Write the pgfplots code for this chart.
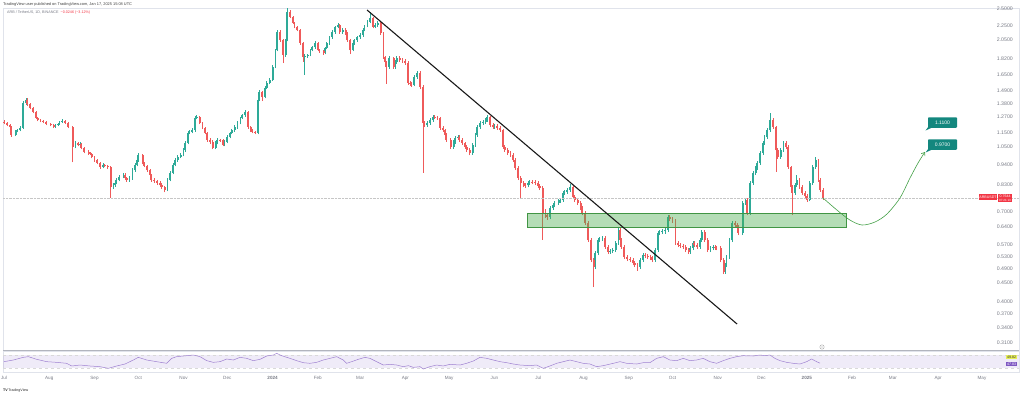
\documentclass[border=0pt]{standalone}
\usepackage{pgfplots}
\pgfplotsset{compat=1.18}
\usepackage{pgfplotstable}
\usetikzlibrary{arrows.meta}
\usepackage{fontspec}
\setmainfont{Liberation Sans}
\definecolor{up}{HTML}{2EAA98}
\definecolor{dn}{HTML}{EF5A5A}
\definecolor{axgrey}{HTML}{E0E3EB}
\definecolor{sepgrey}{HTML}{B2B5BE}
\definecolor{txtgrey}{HTML}{787B86}
\definecolor{tvred}{HTML}{F23645}
\definecolor{callteal}{HTML}{13877E}
\definecolor{zonegreen}{HTML}{4CAF50}
\definecolor{arrowgreen}{HTML}{43A047}
\definecolor{rsipurple}{HTML}{7E57C2}
\definecolor{rsiyellow}{HTML}{E6EE5A}

% day  open  high  low  close  (day 0 = 1 Jul 2023)
\pgfplotstableread{
d o h l c
8 1.1331 1.172 1.125 1.1619
9 1.1619 1.180 1.152 1.1691
11 1.1691 1.195 1.160 1.1839
13 1.1839 1.400 1.178 1.3842
15 1.3842 1.430 1.370 1.4102
35 1.1914 1.217 1.182 1.2062
37 1.2062 1.225 1.197 1.2139
38 1.2139 1.240 1.205 1.2292
40 1.2292 1.250 1.220 1.2368
49 1.0514 1.090 1.042 1.0780
52 1.0645 1.082 1.055 1.0712
68 0.9278 0.950 0.920 0.9394
75 0.8188 0.838 0.810 0.8290
76 0.8290 0.849 0.821 0.8395
77 0.8395 0.865 0.832 0.8553
79 0.8553 0.882 0.848 0.8716
82 0.8716 0.893 0.864 0.8825
86 0.8553 0.876 0.847 0.8662
88 0.8662 0.920 0.858 0.9105
90 0.9105 0.950 0.902 0.9394
91 0.9394 0.980 0.931 0.9692
92 0.9692 1.012 0.960 1.0000
112 0.8035 0.865 0.797 0.8553
114 0.8553 0.904 0.848 0.8941
116 0.8941 0.950 0.886 0.9394
117 0.9394 0.980 0.931 0.9692
119 0.9692 0.998 0.960 0.9877
121 0.9877 1.012 0.979 1.0000
123 1.0000 1.043 0.991 1.0317
124 1.0317 1.090 1.022 1.0780
126 1.0780 1.160 1.068 1.1475
127 1.1475 1.168 1.137 1.1547
129 1.1547 1.182 1.144 1.1691
131 1.1691 1.275 1.158 1.2603
132 1.2603 1.285 1.249 1.2682
145 1.0448 1.090 1.035 1.0780
146 1.0780 1.110 1.068 1.0983
151 1.0645 1.096 1.055 1.0848
153 1.0848 1.130 1.075 1.1192
155 1.1192 1.158 1.109 1.1475
156 1.1475 1.180 1.137 1.1691
158 1.1691 1.203 1.158 1.1914
160 1.1914 1.233 1.180 1.2215
162 1.2215 1.272 1.210 1.2603
163 1.2603 1.296 1.249 1.2840
165 1.2840 1.321 1.272 1.3085
174 1.1475 1.425 1.137 1.4102
175 1.4102 1.498 1.398 1.4827
179 1.4371 1.535 1.425 1.5202
180 1.5202 1.585 1.508 1.5685
182 1.5685 1.615 1.555 1.5980
184 1.5980 1.750 1.585 1.7335
186 1.7335 1.945 1.718 1.9275
187 1.9275 2.180 1.910 2.1573
193 1.8682 2.070 1.850 2.0518
194 2.0518 2.500 2.035 2.4446
206 1.8452 1.875 1.650 1.8567
208 1.8567 1.885 1.838 1.8682
210 1.8682 1.945 1.852 1.9275
211 1.9275 1.982 1.910 1.9642
213 1.9642 2.035 1.945 2.0139
220 1.8919 1.970 1.875 1.9520
221 1.9520 2.032 1.935 2.0139
223 2.0139 2.110 1.995 2.0909
225 2.0909 2.178 2.070 2.1573
227 2.1573 2.245 2.135 2.2258
229 2.2258 2.275 2.205 2.2535
232 2.1573 2.205 2.135 2.1842
239 1.9275 2.030 1.910 2.0139
240 2.0139 2.070 1.995 2.0518
242 2.0518 2.110 2.030 2.0909
244 2.0909 2.138 2.070 2.1170
246 2.1170 2.205 2.095 2.1842
247 2.1842 2.260 2.165 2.2396
249 2.2396 2.320 2.220 2.2965
251 2.2965 2.440 2.275 2.3546
254 2.2258 2.275 2.205 2.2535
256 2.2535 2.305 2.230 2.2821
264 1.7335 1.852 1.715 1.8338
268 1.7335 1.808 1.715 1.7885
269 1.7885 1.855 1.770 1.8338
281 1.5488 1.645 1.535 1.6284
283 1.6284 1.690 1.610 1.6697
290 1.2062 1.236 1.192 1.2215
292 1.2215 1.258 1.208 1.2445
294 1.2445 1.283 1.230 1.2682
308 1.0514 1.098 1.040 1.0848
309 1.0848 1.125 1.073 1.1122
311 1.1122 1.132 1.100 1.1192
321 1.0127 1.077 1.000 1.0645
323 1.0645 1.146 1.053 1.1331
324 1.1331 1.205 1.120 1.1914
326 1.1914 1.235 1.178 1.2215
328 1.2215 1.243 1.208 1.2292
330 1.2292 1.258 1.215 1.2445
331 1.2445 1.285 1.232 1.2682
336 1.1914 1.212 1.180 1.1990
359 0.8275 0.852 0.817 0.8395
360 0.8395 0.858 0.830 0.8448
374 0.6788 0.728 0.670 0.7181
376 0.7181 0.742 0.710 0.7316
377 0.7316 0.752 0.722 0.7409
380 0.7409 0.762 0.732 0.7502
381 0.7502 0.766 0.740 0.7548
383 0.7548 0.800 0.746 0.7889
384 0.7889 0.806 0.778 0.7940
386 0.7940 0.816 0.784 0.8035
388 0.8035 0.832 0.795 0.8188
405 0.4966 0.550 0.490 0.5421
407 0.5421 0.596 0.535 0.5879
408 0.5879 0.600 0.580 0.5916
410 0.5916 0.604 0.584 0.5953
415 0.5455 0.556 0.539 0.5489
417 0.5489 0.560 0.542 0.5523
419 0.5523 0.585 0.545 0.5770
421 0.5770 0.634 0.570 0.6258
436 0.4966 0.526 0.490 0.5188
438 0.5188 0.542 0.512 0.5353
446 0.5188 0.560 0.512 0.5523
448 0.5523 0.622 0.545 0.6142
449 0.6142 0.627 0.606 0.6181
451 0.6181 0.629 0.610 0.6200
453 0.6200 0.634 0.611 0.6258
455 0.6258 0.688 0.618 0.6788
470 0.5455 0.567 0.539 0.5593
472 0.5593 0.585 0.552 0.5770
477 0.5628 0.596 0.556 0.5879
478 0.5879 0.627 0.580 0.6181
484 0.5523 0.567 0.545 0.5593
486 0.5593 0.571 0.552 0.5628
494 0.4814 0.510 0.476 0.5028
495 0.5028 0.536 0.497 0.5287
497 0.5287 0.596 0.522 0.5879
499 0.5879 0.663 0.580 0.6539
506 0.6142 0.752 0.606 0.7409
508 0.7409 0.766 0.732 0.7548
511 0.6960 0.851 0.688 0.8395
513 0.8395 0.906 0.830 0.8941
515 0.8941 0.934 0.884 0.9221
516 0.9221 0.963 0.912 0.9513
518 0.9513 1.025 0.941 1.0127
520 1.0127 1.091 1.002 1.0780
521 1.0780 1.133 1.066 1.1192
523 1.1192 1.183 1.107 1.1691
525 1.1691 1.300 1.157 1.2445
532 0.9877 1.045 0.976 1.0317
534 1.0317 1.092 1.020 1.0780
542 0.7889 0.840 0.780 0.8290
543 0.8290 0.880 0.820 0.8553
552 0.7548 0.850 0.748 0.8395
554 0.8395 0.940 0.830 0.9278
556 0.9278 0.985 0.918 0.9692
}\uptab

\pgfplotstableread{
d o h l c
0 1.2300 1.245 1.210 1.2215
2 1.2215 1.232 1.195 1.2062
4 1.2062 1.215 1.180 1.1914
5 1.1914 1.200 1.120 1.1331
16 1.4102 1.425 1.362 1.3755
18 1.3755 1.388 1.330 1.3416
20 1.3416 1.352 1.298 1.3085
22 1.3085 1.318 1.250 1.2603
23 1.2603 1.270 1.234 1.2445
25 1.2445 1.256 1.226 1.2368
27 1.2368 1.248 1.219 1.2292
29 1.2292 1.240 1.204 1.2139
32 1.2139 1.225 1.196 1.2062
34 1.2062 1.216 1.182 1.1914
42 1.2368 1.248 1.212 1.2215
44 1.2215 1.230 1.182 1.1914
47 1.1914 1.198 0.955 1.0514
51 1.0780 1.088 1.055 1.0645
53 1.0712 1.080 1.035 1.0448
55 1.0448 1.053 1.010 1.0190
58 1.0190 1.030 1.003 1.0127
59 1.0127 1.022 0.997 1.0063
60 1.0063 1.015 0.979 0.9877
62 0.9877 0.996 0.960 0.9692
64 0.9692 0.978 0.943 0.9513
66 0.9513 0.960 0.919 0.9278
69 0.9394 0.948 0.925 0.9336
71 0.9336 0.942 0.919 0.9278
73 0.9278 0.935 0.764 0.8188
83 0.8825 0.892 0.858 0.8662
84 0.8662 0.874 0.847 0.8553
95 1.0000 1.008 0.943 0.9513
96 0.9513 0.960 0.925 0.9336
98 0.9336 0.942 0.902 0.9105
100 0.9105 0.918 0.874 0.8825
101 0.8825 0.890 0.847 0.8553
103 0.8553 0.864 0.842 0.8500
105 0.8500 0.858 0.831 0.8395
107 0.8395 0.848 0.821 0.8290
108 0.8290 0.837 0.811 0.8188
110 0.8188 0.826 0.792 0.8035
134 1.2682 1.280 1.211 1.2215
136 1.2215 1.232 1.173 1.1839
138 1.1839 1.194 1.137 1.1475
139 1.1475 1.158 1.088 1.0983
141 1.0983 1.110 1.074 1.0848
143 1.0848 1.095 1.035 1.0448
148 1.0983 1.108 1.085 1.0950
150 1.0950 1.104 1.055 1.0645
167 1.3085 1.318 1.180 1.1914
169 1.1914 1.200 1.158 1.1691
170 1.1691 1.178 1.144 1.1547
172 1.1547 1.164 1.137 1.1475
177 1.4827 1.495 1.400 1.4371
189 2.1573 2.180 2.030 2.0518
191 2.0518 2.065 1.777 1.8682
196 2.4446 2.470 2.350 2.3694
198 2.3694 2.390 2.262 2.2821
199 2.2821 2.300 2.205 2.2258
201 2.2258 2.245 2.165 2.1842
203 2.1842 2.200 1.995 2.0139
205 2.0139 2.030 1.790 1.8452
215 2.0139 2.030 1.910 1.9275
216 1.9275 1.940 1.895 1.9156
219 1.9156 1.930 1.872 1.8919
230 2.2535 2.270 2.135 2.1573
234 2.1842 2.205 2.120 2.1439
235 2.1439 2.160 2.030 2.0518
237 2.0518 2.070 1.880 1.9275
253 2.3546 2.375 2.205 2.2258
258 2.2821 2.300 2.120 2.1439
260 2.1439 2.160 1.820 1.8452
261 1.8452 1.862 1.768 1.7885
262 1.7885 1.805 1.560 1.7335
267 1.8338 1.850 1.715 1.7335
271 1.8338 1.852 1.790 1.8108
273 1.8108 1.830 1.780 1.7997
275 1.7997 1.818 1.757 1.7774
277 1.7774 1.795 1.550 1.5685
278 1.5685 1.585 1.540 1.5586
279 1.5586 1.575 1.530 1.5488
285 1.6697 1.688 1.510 1.5298
287 1.5298 1.545 0.894 1.2215
288 1.2215 1.235 1.190 1.2062
295 1.2682 1.282 1.250 1.2640
297 1.2640 1.276 1.245 1.2603
299 1.2603 1.272 1.170 1.1839
301 1.1839 1.195 1.155 1.1691
302 1.1691 1.180 1.120 1.1331
303 1.1331 1.145 1.085 1.0983
306 1.0983 1.110 1.040 1.0514
312 1.1192 1.130 1.086 1.0983
314 1.0983 1.110 1.066 1.0780
316 1.0780 1.088 1.040 1.0514
317 1.0514 1.062 1.020 1.0317
319 1.0317 1.042 0.998 1.0127
333 1.2682 1.280 1.192 1.2062
335 1.2062 1.218 1.178 1.1914
338 1.1990 1.210 1.172 1.1839
340 1.1839 1.195 1.156 1.1691
342 1.1691 1.180 1.040 1.0514
343 1.0514 1.062 1.020 1.0317
345 1.0317 1.042 1.000 1.0127
347 1.0127 1.023 0.988 1.0000
349 1.0000 1.010 0.958 0.9692
350 0.9692 0.979 0.911 0.9221
352 0.9221 0.932 0.855 0.8662
354 0.8662 0.876 0.765 0.8395
356 0.8395 0.850 0.818 0.8290
357 0.8290 0.840 0.815 0.8275
362 0.8448 0.856 0.832 0.8430
364 0.8430 0.854 0.829 0.8395
366 0.8395 0.850 0.813 0.8239
367 0.8239 0.833 0.803 0.8137
369 0.8137 0.822 0.588 0.6960
371 0.6960 0.712 0.675 0.6873
372 0.6873 0.697 0.668 0.6788
390 0.8188 0.828 0.760 0.7692
391 0.7692 0.778 0.745 0.7548
393 0.7548 0.764 0.732 0.7409
395 0.7409 0.750 0.709 0.7181
396 0.7181 0.726 0.687 0.6960
398 0.6960 0.704 0.645 0.6539
400 0.6539 0.662 0.580 0.5879
402 0.5879 0.595 0.512 0.5188
404 0.5188 0.525 0.438 0.4966
412 0.5953 0.603 0.556 0.5628
414 0.5628 0.570 0.538 0.5455
422 0.6258 0.632 0.580 0.5879
423 0.5879 0.595 0.556 0.5628
425 0.5628 0.570 0.522 0.5287
427 0.5287 0.535 0.515 0.5221
429 0.5221 0.529 0.512 0.5188
431 0.5188 0.526 0.502 0.5092
432 0.5092 0.516 0.496 0.5028
434 0.5028 0.509 0.485 0.4966
439 0.5353 0.542 0.525 0.5320
441 0.5320 0.539 0.522 0.5287
443 0.5287 0.535 0.518 0.5254
444 0.5254 0.532 0.512 0.5188
456 0.6788 0.688 0.662 0.6703
458 0.6703 0.679 0.654 0.6620
460 0.6620 0.670 0.569 0.5770
462 0.5770 0.585 0.562 0.5698
463 0.5698 0.577 0.559 0.5663
465 0.5663 0.574 0.555 0.5628
467 0.5628 0.570 0.545 0.5523
469 0.5523 0.559 0.538 0.5455
473 0.5770 0.585 0.562 0.5698
475 0.5698 0.577 0.555 0.5628
480 0.6181 0.626 0.580 0.5879
482 0.5879 0.596 0.545 0.5523
487 0.5628 0.570 0.552 0.5593
488 0.5593 0.566 0.551 0.5580
491 0.5580 0.565 0.512 0.5188
493 0.5188 0.526 0.475 0.4814
501 0.6539 0.663 0.638 0.6457
502 0.6457 0.654 0.630 0.6377
503 0.6377 0.646 0.606 0.6142
509 0.7548 0.765 0.687 0.6960
527 1.2445 1.262 1.178 1.1914
529 1.1914 1.200 0.900 1.0317
530 1.0317 1.045 0.976 0.9877
536 1.0780 1.090 1.040 1.0514
537 1.0514 1.062 0.917 0.9278
539 0.9278 0.936 0.809 0.8188
540 0.8188 0.828 0.687 0.7889
545 0.8553 0.865 0.810 0.8188
547 0.8188 0.828 0.780 0.7889
549 0.7889 0.797 0.766 0.7740
550 0.7740 0.782 0.746 0.7548
558 0.9692 0.978 0.846 0.8553
559 0.8553 0.864 0.795 0.8035
561 0.8035 0.812 0.756 0.7644
}\dntab

\pgfplotstableread{
d r
0 49.5
6.4 54.6
13.2 62.8
16.7 64.9
22.4 56.7
29.2 49.5
36.1 47.4
42.9 44.4
46.4 36.2
52.1 39.2
58.9 36.2
65.8 34.1
71.5 29.0
77.2 36.2
82.9 42.3
88.6 54.6
92.0 62.8
97.8 54.6
104.6 49.5
111.5 44.4
114.9 59.7
118.3 64.9
125.2 67.9
129.7 70.0
134.3 64.9
138.9 52.6
143.4 47.4
148.0 49.5
152.6 57.7
157.1 54.6
161.7 62.8
166.3 59.7
170.8 52.6
175.4 56.7
180.0 66.9
184.5 70.0
186.8 75.1
190.2 67.9
195.9 59.7
200.5 52.6
205.0 46.4
209.6 44.4
214.2 47.4
218.7 54.6
223.3 59.7
227.9 64.9
232.4 54.6
234.7 44.4
238.2 49.5
242.7 56.7
247.3 62.8
250.7 59.7
255.3 49.5
259.8 39.2
264.4 41.3
269.0 39.2
273.5 34.1
277.0 37.2
280.4 32.0
285.0 34.1
287.2 26.9
291.8 34.1
296.4 39.2
300.9 36.2
305.5 41.3
312.4 39.2
316.9 44.4
321.5 51.5
326.1 62.8
330.7 59.7
335.2 54.6
339.8 49.5
344.4 46.4
348.9 42.3
353.5 39.2
360.3 37.2
364.9 39.2
369.5 29.0
374.0 36.2
378.6 44.4
383.2 49.5
387.7 54.6
392.3 49.5
396.8 44.4
401.4 42.3
406.0 34.1
410.5 37.2
417.4 44.4
422.0 49.5
426.6 44.4
433.4 42.3
438.0 46.4
442.5 46.4
447.1 59.7
451.7 64.9
456.2 54.6
460.8 52.6
465.4 59.7
469.9 52.6
474.5 54.6
479.0 59.7
483.6 49.5
488.2 44.4
492.7 52.6
497.3 59.7
501.9 64.9
506.4 67.9
513.3 66.9
517.9 70.0
521.3 67.9
524.7 70.0
528.1 59.7
531.6 52.6
536.2 47.4
540.7 44.4
545.3 42.3
549.9 49.5
553.3 57.7
556.7 49.5
559.0 45.0
}\rsitab

\begin{document}
\begin{tikzpicture}[x=1pt,y=1pt]
\path[use as bounding box] (0,0) rectangle (1024,-394);

% ---------- main price pane ----------
\begin{axis}[
  at={(3pt,-8pt)}, anchor=north west,
  scale only axis, width=1016pt, height=342pt,
  xmin=-0.685, xmax=695.35,
  ymode=log, ymin=0.2956, ymax=2.5061,
  axis line style={draw=axgrey, line width=0.5pt},
  xtick=\empty,
  ytick={0.31,0.34,0.37,0.40,0.45,0.49,0.53,0.57,0.64,0.70,0.83,0.94,1.05,1.15,1.27,1.38,1.49,1.65,1.82,2.05,2.25,2.5},
  yticklabels={0.3100,0.3400,0.3700,0.4000,0.4500,0.4900,0.5300,0.5700,0.6400,0.7000,0.8300,0.9400,1.0500,1.1500,1.2700,1.3800,1.4900,1.6500,1.8200,2.0500,2.2500,2.5000},
  yticklabel pos=right,
  yticklabel style={anchor=east, xshift=-6pt, inner sep=0pt, font=\fontsize{5.2}{6}\selectfont, text=txtgrey},
  major tick length=0pt, minor y tick num=0,
  tick style={draw=none},
]
% wicks
\addplot[draw=none, mark=none, forget plot, error bars/.cd, y dir=plus, y explicit, error mark=none,
  error bar style={draw=up, line width=0.5pt}]
  table[x=d, y=l, y error expr=\thisrow{h}-\thisrow{l}] {\uptab};
\addplot[draw=none, mark=none, forget plot, error bars/.cd, y dir=plus, y explicit, error mark=none,
  error bar style={draw=dn, line width=0.5pt}]
  table[x=d, y=l, y error expr=\thisrow{h}-\thisrow{l}] {\dntab};
% bodies
\addplot[draw=none, mark=none, forget plot, error bars/.cd, y dir=plus, y explicit, error mark=none,
  error bar style={draw=up, line width=1.9pt}]
  table[x=d, y=o, y error expr=\thisrow{c}-\thisrow{o}] {\uptab};
\addplot[draw=none, mark=none, forget plot, error bars/.cd, y dir=plus, y explicit, error mark=none,
  error bar style={draw=dn, line width=1.9pt}]
  table[x=d, y=c, y error expr=\thisrow{o}-\thisrow{c}] {\dntab};

% last price line
\draw[gray!45, densely dotted, line width=0.4pt] (axis cs:-0.685,0.7644) -- (axis cs:695.35,0.7644);
% support zone
\fill[zonegreen, fill opacity=0.42] (axis cs:358.3,0.6377) rectangle (axis cs:576.8,0.6960);
\draw[zonegreen!85!black, line width=0.4pt] (axis cs:358.3,0.6377) rectangle (axis cs:576.8,0.6960);
% trendline
\addplot[black!90, line width=1.1pt, forget plot] coordinates {(248.7,2.4751) (502.2,0.3478)};
% projected path
\addplot[arrowgreen, line width=0.6pt, smooth, forget plot, -{Straight Barb[length=3pt,width=4.5pt]}]
  coordinates {(561.1,0.7644) (570.6,0.7091) (579.5,0.6661) (587.8,0.6457) (596.7,0.6578)
               (604.9,0.6916) (613.8,0.7644) (620.7,0.8662) (626.2,0.9513) (630.9,1.0190)};
\end{axis}

% ---------- RSI pane ----------
\begin{axis}[
  at={(3pt,-351pt)}, anchor=north west,
  scale only axis, width=1016pt, height=21pt,
  xmin=-0.685, xmax=695.35, ymin=17.7, ymax=82.3,
  axis line style={draw=axgrey, line width=0.5pt},
  ytick=\empty,
  xtick={0,31,62,92,123,153,184,215,244,275,305,336,366,397,428,458,489,519,550,581,609,640,670},
  xticklabels={Jul,Aug,Sep,Oct,Nov,Dec,\textbf{2024},Feb,Mar,Apr,May,Jun,Jul,Aug,Sep,Oct,Nov,Dec,\textbf{2025},Feb,Mar,Apr,May},
  xticklabel style={font=\fontsize{4.6}{5}\selectfont, text=txtgrey, inner sep=0pt, yshift=-3.8pt},
  major tick length=0pt, tick style={draw=none},
]
\fill[rsipurple, fill opacity=0.12] (axis cs:-0.685,30) rectangle (axis cs:695.35,70);
\draw[gray!30, dashed, line width=0.3pt] (axis cs:-0.685,70) -- (axis cs:695.35,70);
\draw[gray!30, dashed, line width=0.3pt] (axis cs:-0.685,30) -- (axis cs:695.35,30);
\addplot[rsipurple!75, line width=0.5pt, mark=none] table[x=d, y=r] {\rsitab};
\end{axis}

% pane separator
\draw[sepgrey, line width=0.7pt] (3,-350.6) -- (1019,-350.6);

% ---------- header ----------
\node[anchor=west, inner sep=0pt, font=\fontsize{3.9}{4}\selectfont, text=black!75] at (3,-4.3)
  {TradingView user published on TradingView.com, Jan 17, 2025 15:08 UTC};
\node[anchor=west, inner sep=0pt, font=\fontsize{3.7}{4}\selectfont, text=txtgrey] at (7,-13)
  {ARB / TetherUS, 1D, BINANCE\hspace{2pt}\textcolor{tvred}{−0.0246 (−3.12\%)}};

% ---------- callouts ----------
\node[fill=callteal, text=white, font=\fontsize{5}{5}\selectfont, minimum width=29pt, minimum height=10.5pt, inner sep=0pt, rounded corners=0.8pt] at (942.5,-122.5) {1.1100};
\fill[callteal] (928.5,-126.5) -- (925.5,-130.5) -- (932,-127.6) -- cycle;
\node[fill=callteal, text=white, font=\fontsize{5}{5}\selectfont, minimum width=29pt, minimum height=10.5pt, inner sep=0pt, rounded corners=0.8pt] at (942.5,-144.5) {0.9700};
\fill[callteal] (928.5,-148.5) -- (925.5,-152.5) -- (932,-149.6) -- cycle;

% ---------- price tag ----------
\node[fill=tvred, text=white, font=\fontsize{3.6}{4}\selectfont, inner sep=0.8pt, anchor=north east, minimum height=6pt] at (997.6,-194.2) {ARBUSDT};
\node[fill=tvred, text=white, font=\fontsize{3.6}{4}\selectfont, inner sep=0.8pt, anchor=north west, align=center] at (998.2,-194.2) {0.7644\\[-0.6pt]{\fontsize{3}{3}\selectfont 07:21:13}};

% ---------- RSI tags ----------
\node[fill=rsiyellow, text=black!80, font=\fontsize{3.6}{4}\selectfont, inner sep=0.7pt, anchor=east] at (1017,-356.8) {49.82};
\node[fill=rsipurple, text=white, font=\fontsize{3.6}{4}\selectfont, inner sep=0.7pt, anchor=east] at (1017,-364.2) {47.83};

% icon and logo
\draw[gray!70, line width=0.4pt] (822,-347) circle (2.2);
\fill[gray!70] (822,-347) circle (0.7);
\node[anchor=west, inner sep=0pt, font=\fontsize{3.6}{4}\selectfont, text=black!85] at (3,-391) {\textbf{TV}\,TradingView};
\end{tikzpicture}
\end{document}
